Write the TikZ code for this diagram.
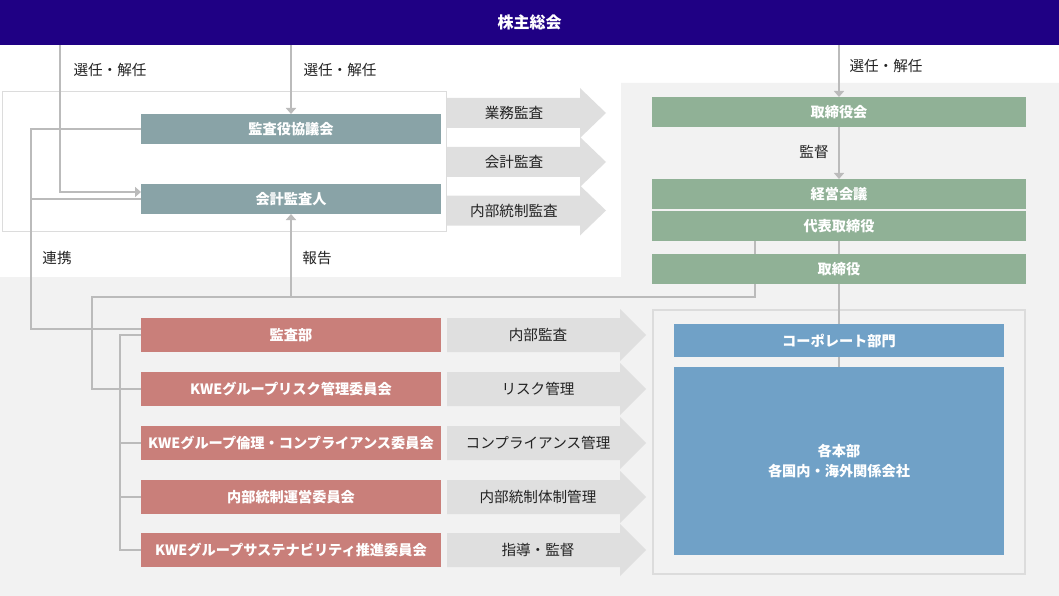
\documentclass[tikz,border=0pt]{standalone}
\usepackage{fontspec}
\setmainfont{Noto Sans CJK JP}
\usetikzlibrary{arrows.meta}
\pgfdeclarelayer{background}
\pgfsetlayers{background,main}
\definecolor{navy}{HTML}{1F0084}
\definecolor{bggray}{HTML}{F2F2F2}
\definecolor{framegray}{HTML}{DCDCDC}
\definecolor{arrowgray}{HTML}{DFDFDF}
\definecolor{linegray}{HTML}{BBBBBB}
\definecolor{slate}{HTML}{89A3A7}
\definecolor{sage}{HTML}{90B196}
\definecolor{rose}{HTML}{C97F7A}
\definecolor{steel}{HTML}{70A1C7}
\definecolor{labeltext}{HTML}{222222}
\tikzset{
  boxbase/.style={inner sep=0pt, outer sep=0pt, text=white, font=\bfseries\fontsize{14.2}{16}\selectfont, align=center},
  slatebox/.style={boxbase, fill=slate, minimum width=300pt, minimum height=30pt},
  sagebox/.style={boxbase, fill=sage, minimum width=374pt, minimum height=30pt},
  rosebox/.style={boxbase, fill=rose, minimum width=300pt, minimum height=34pt},
  steelbox/.style={boxbase, fill=steel, minimum width=330pt},
  lbl/.style={inner sep=0pt, text=labeltext, font=\fontsize{14.6}{16}\selectfont},
  conn/.style={draw=linegray, line width=2pt},
  arr/.style={-{Triangle[width=10pt,length=6pt]}},
  framebox/.style={draw=framegray, inner sep=0pt, outer sep=0pt},
}
\newcommand\toparrow[3]{%
  \begin{pgfonlayer}{background}
  \fill[arrowgray] (447,#1-15) -- (580,#1-15) -- (580,#1-25) -- (606,#1) -- (580,#1+25) -- (580,#1+15) -- (447,#1+15) -- cycle;
  \end{pgfonlayer}
  \node[lbl] (#2) at (514,#1) {#3};}
\newcommand\botarrow[3]{%
  \begin{pgfonlayer}{background}
  \fill[arrowgray] (447,#1-17) -- (620,#1-17) -- (620,#1-26) -- (646,#1) -- (620,#1+26) -- (620,#1+17) -- (447,#1+17) -- cycle;
  \end{pgfonlayer}
  \node[lbl] (#2) at (538,#1) {#3};}
\begin{document}
\begin{tikzpicture}[x=1pt,y=-1pt]
\useasboundingbox (0,0) rectangle (1059,596);
% background
\begin{pgfonlayer}{background}
\fill[bggray] (0,277) -- (621,277) -- (621,83) -- (1059,83) -- (1059,596) -- (0,596) -- cycle;
\node[framebox, fill=white, line width=1pt, minimum width=444pt, minimum height=139pt] (auditframe) at (224,161.5) {};
\node[framebox, line width=2pt, minimum width=372pt, minimum height=264pt] (groupframe) at (839,442) {};
\end{pgfonlayer}
% gray arrows with labels
\toparrow{113}{a1}{業務監査}
\toparrow{162}{a2}{会計監査}
\toparrow{210.5}{a3}{内部統制監査}
\botarrow{335}{b1}{内部監査}
\botarrow{389}{b2}{リスク管理}
\botarrow{443}{b3}{コンプライアンス管理}
\botarrow{497}{b4}{内部統制体制管理}
\botarrow{550}{b5}{指導・監督}
% top bar
\node[boxbase, fill=navy, minimum width=1059pt, minimum height=45pt, font=\bfseries\fontsize{16}{18}\selectfont] (soukai) at (529.5,22.5) {株主総会};
% boxes
\node[slatebox] (kansayaku) at (291,129) {監査役協議会};
\node[slatebox] (kaikei) at (291,199) {会計監査人};
\node[sagebox] (torikai) at (839,112) {取締役会};
\node[sagebox] (keiei) at (839,194) {経営会議};
\node[sagebox] (daihyo) at (839,226) {代表取締役};
\node[sagebox] (torishimari) at (839,269) {取締役};
\node[steelbox, minimum height=33pt] (corp) at (839,340.5) {コーポレート部門};
\node[steelbox, minimum height=188pt, font=\bfseries\fontsize{14.2}{20}\selectfont] (honbu) at (839,461) {各本部\\各国内・海外関係会社};
\node[rosebox] (kansabu) at (291,335) {監査部};
\node[rosebox] (risk) at (291,389) {KWEグループリスク管理委員会};
\node[rosebox] (rinri) at (291,443) {KWEグループ倫理・コンプライアンス委員会};
\node[rosebox] (naibu) at (291,497) {内部統制運営委員会};
\node[rosebox] (sus) at (291,550) {KWEグループサステナビリティ推進委員会};
% connector bend points
\coordinate (selL) at (60,192);
\coordinate (rk) at (31,329);
\coordinate (tr) at (120,335);
\coordinate (hk) at (755,297);
\coordinate (hl) at (92,297);
% connectors, behind the boxes
\begin{pgfonlayer}{background}
\draw[conn,arr] (kansayaku.north |- soukai.south) -- (kansayaku.north);
\draw[conn,arr] (selL |- soukai.south) -- (selL) -- (selL -| kaikei.west);
\draw[conn] (kansayaku.west) -| (rk) -- (rk -| kansabu.west);
\draw[conn] (kaikei.west) -- (kaikei.west -| rk);
\draw[conn] (kansabu.west) -- (tr) |- (sus.west);
\draw[conn] (tr |- risk.west) -- (risk.west);
\draw[conn] (tr |- rinri.west) -- (rinri.west);
\draw[conn] (tr |- naibu.west) -- (naibu.west);
\draw[conn] (hk |- daihyo.south) -- (hk) -- (hl) |- (risk.west);
\draw[conn,arr] (kaikei.south |- hk) -- (kaikei.south);
\draw[conn,arr] (torikai.north |- soukai.south) -- (torikai.north);
\draw[conn,arr] (torikai.south) -- (keiei.north);
\draw[conn] (daihyo.south) -- (honbu.north);
\end{pgfonlayer}
% labels
\node[lbl] (sel1) at (110,70) {選任・解任};
\node[lbl] (sel2) at (340,70) {選任・解任};
\node[lbl] (sel3) at (886,66) {選任・解任};
\node[lbl] (kantoku) at (814,152) {監督};
\node[lbl] (renkei) at (57,258) {連携};
\node[lbl] (houkoku) at (317,258) {報告};
\end{tikzpicture}
\end{document}
